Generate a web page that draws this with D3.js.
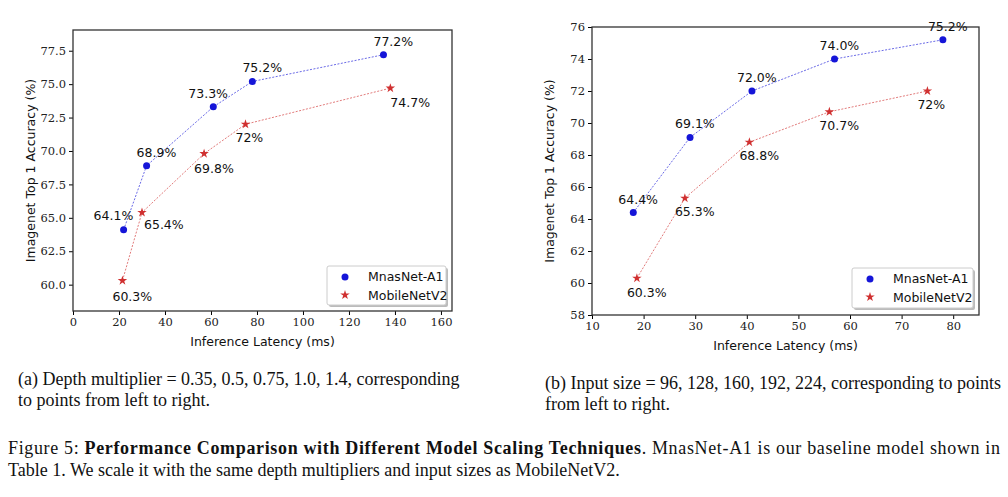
<!DOCTYPE html>
<html><head><meta charset="utf-8">
<script src="https://cdn.jsdelivr.net/npm/d3@7"></script>
<style>
body{margin:0;background:#fff}
.tick text{font-family:"DejaVu Serif",serif;font-size:11.5px;fill:#222}
.lab{font-family:"DejaVu Sans",sans-serif;font-size:12.5px;fill:#111}
.cap{font-family:"Liberation Serif",serif;font-size:18px;fill:#111}
</style></head><body>
<script>
var width = 1008, height = 497

var svg = d3.select("body").append("svg")
  .attr("width", width).attr("height", height)

var panels = [
  {
    box: [73, 30, 452, 311],
    xdom: [0, 164.8], ydom: [58.03, 79.05],
    xticks: d3.range(0, 161, 20), yticks: [60, 62.5, 65, 67.5, 70, 72.5, 75, 77.5], yfmt: d3.format(".1f"),
    legend: [327, 266, 446, 305],
    blue: [[22,64.1,"64.1%",-30,-10],[32,68.9,"68.9%",-10,-9],[61,73.3,"73.3%",-25,-9],[78,75.2,"75.2%",-10,-9],[135,77.2,"77.2%",-10,-9]],
    red: [[21.5,60.3,"60.3%",-10,20],[30,65.4,"65.4%",2,17],[57,69.8,"69.8%",-10,19],[75,72,"72%",-10,18],[138,74.7,"74.7%",0,19]]
  },
  {
    box: [592, 27, 979, 315],
    xdom: [10, 85], ydom: [58, 76],
    xticks: d3.range(10, 81, 10), yticks: d3.range(58, 77, 2), yfmt: d3.format("d"),
    legend: [852, 268, 973, 308],
    blue: [[18,64.4,"64.4%",-15,-9],[29,69.1,"69.1%",-15,-9],[41,72.0,"72.0%",-15,-9],[57,74.0,"74.0%",-15,-9],[78,75.2,"75.2%",-15,-9]],
    red: [[18.7,60.3,"60.3%",-10,19],[28,65.3,"65.3%",-10,18],[40.5,68.8,"68.8%",-10,18],[56,70.7,"70.7%",-10,18],[75,72,"72%",-10,18]]
  }
]

var star = d3.symbol().type(d3.symbolStar).size(28)

panels.forEach(function (p) {
  var b = p.box
  var x = d3.scaleLinear().domain(p.xdom).range([b[0], b[2]])
  var y = d3.scaleLinear().domain(p.ydom).range([b[3], b[1]])
  var g = svg.append("g")

  g.append("g").attr("transform", "translate(0," + b[3] + ")")
    .call(d3.axisBottom(x).tickValues(p.xticks).tickSize(4).tickPadding(3))
  g.append("g").attr("transform", "translate(" + b[0] + ",0)")
    .call(d3.axisLeft(y).tickValues(p.yticks).tickFormat(p.yfmt).tickSize(4).tickPadding(3))
  g.selectAll(".domain").remove()
  g.append("rect").attr("x", b[0]).attr("y", b[1])
    .attr("width", b[2] - b[0]).attr("height", b[3] - b[1])
    .attr("fill", "none").attr("stroke", "#333").attr("stroke-width", 1.3)

  g.append("text").attr("class", "lab").attr("text-anchor", "middle")
    .attr("x", (b[0] + b[2]) / 2).attr("y", b[3] + 35).text("Inference Latency (ms)")
  g.append("text").attr("class", "lab").attr("text-anchor", "middle")
    .attr("transform", "translate(" + (b[0] - 38) + "," + ((b[1] + b[3]) / 2) + ") rotate(-90)")
    .text("Imagenet Top 1 Accuracy (%)")

  var line = d3.line().x(function (d) { return x(d[0]) }).y(function (d) { return y(d[1]) })
  ;[["blue", "#1515d8"], ["red", "#d03030"]].forEach(function (s) {
    var data = p[s[0]]
    g.append("path").datum(data).attr("d", line).attr("fill", "none")
      .attr("stroke", s[1]).attr("stroke-width", 0.8).attr("stroke-dasharray", "2,1.5").attr("opacity", 0.8)
    if (s[0] == "blue") {
      g.selectAll(null).data(data).enter().append("circle")
        .attr("cx", function (d) { return x(d[0]) }).attr("cy", function (d) { return y(d[1]) })
        .attr("r", 3.5).attr("fill", s[1])
    } else {
      g.selectAll(null).data(data).enter().append("path").attr("d", star)
        .attr("transform", function (d) { return "translate(" + x(d[0]) + "," + y(d[1]) + ")" })
        .attr("fill", s[1])
    }
    g.selectAll(null).data(data).enter().append("text").attr("class", "lab")
      .attr("x", function (d) { return x(d[0]) + d[3] }).attr("y", function (d) { return y(d[1]) + d[4] })
      .text(function (d) { return d[2] })
  })

  var l = p.legend
  g.append("rect").attr("x", l[0] + 2).attr("y", l[1] + 2).attr("width", l[2] - l[0]).attr("height", l[3] - l[1])
    .attr("fill", "#bbb").attr("rx", 2)
  g.append("rect").attr("x", l[0]).attr("y", l[1]).attr("width", l[2] - l[0]).attr("height", l[3] - l[1])
    .attr("fill", "#fff").attr("stroke", "#ccc").attr("rx", 2)
  g.append("circle").attr("cx", l[0] + 18).attr("cy", l[1] + 11).attr("r", 3.5).attr("fill", "#1515d8")
  g.append("path").attr("d", star).attr("transform", "translate(" + (l[0] + 18) + "," + (l[1] + 29) + ")").attr("fill", "#d03030")
  g.append("text").attr("class", "lab").attr("x", l[0] + 41).attr("y", l[1] + 15).text("MnasNet-A1")
  g.append("text").attr("class", "lab").attr("x", l[0] + 41).attr("y", l[1] + 34).text("MobileNetV2")
})

var caps = [
  [18, 385, "(a) Depth multiplier = 0.35, 0.5, 0.75, 1.0, 1.4, corresponding"],
  [18, 406, "to points from left to right."],
  [545, 389, "(b) Input size = 96, 128, 160, 192, 224, corresponding to points"],
  [545, 410, "from left to right."],
  [8, 476, "Table 1. We scale it with the same depth multipliers and input sizes as MobileNetV2."]
]
caps.forEach(function (c) {
  svg.append("text").attr("class", "cap").attr("x", c[0]).attr("y", c[1]).text(c[2])
})
var f = svg.append("text").attr("class", "cap").attr("x", 8).attr("y", 454)
  .attr("textLength", 992).attr("lengthAdjust", "spacing")
f.append("tspan").text("Figure 5: ")
f.append("tspan").attr("font-weight", "bold").text("Performance Comparison with Different Model Scaling Techniques")
f.append("tspan").text(". MnasNet-A1 is our baseline model shown in")
</script>
</body></html>
